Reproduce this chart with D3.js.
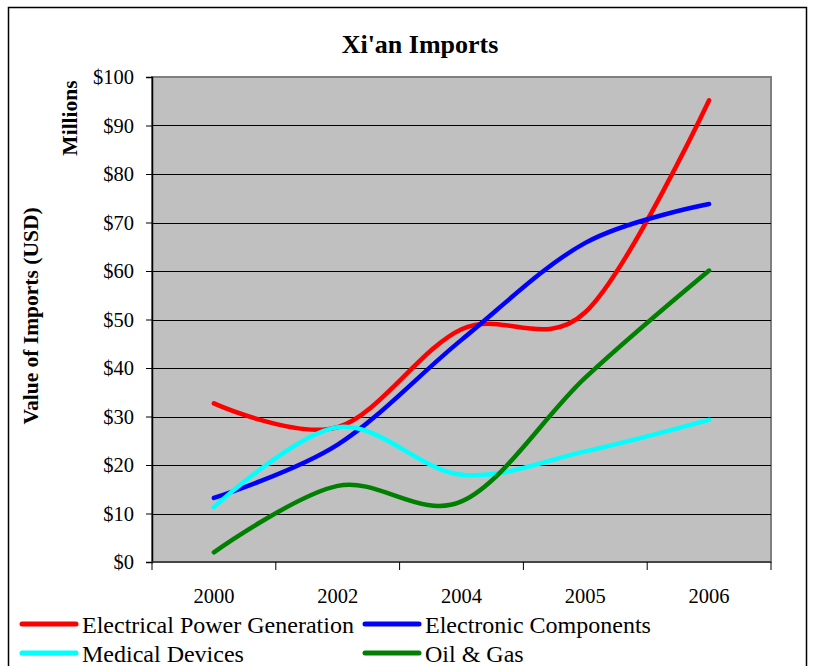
<!DOCTYPE html>
<html>
<head>
<meta charset="utf-8">
<script src="https://cdn.jsdelivr.net/npm/d3@7"></script>
<style>
  body { margin: 0; background: #fff; }
  text { font-family: "Liberation Serif", "Times New Roman", serif; }
</style>
</head>
<body>
<script>
// data (millions USD)
var years = ["2000", "2002", "2004", "2005", "2006"];
var electricalPower = [32.7, 27.8, 48.0, 51.5, 95.2];
var electronicComp = [13.2, 24.2, 45.8, 65.8, 73.8];
var medicalDevices = [11.3, 27.8, 18.0, 22.8, 29.3];
var oilGas = [2.0, 15.7, 12.5, 38.0, 60.1];
var seriesNames = ["Electrical Power Generation", "Electronic Components", "Medical Devices", "Oil & Gas"];
var seriesColors = ["#ff0000", "#0000ff", "#00ffff", "#008000"];
var yTicks = [0, 10, 20, 30, 40, 50, 60, 70, 80, 90, 100];

var allSeries = [electricalPower, electronicComp, medicalDevices, oilGas];

var margin = {top: 77, right: 45, bottom: 104, left: 152},
    width = 816 - margin.left - margin.right,
    height = 666 - margin.top - margin.bottom;

var svg = d3.select("body").append("svg")
    .attr("width", 816)
    .attr("height", 666);

// outer chart border
svg.append("rect")
    .attr("x", 8.5).attr("y", 7.5)
    .attr("width", 798).attr("height", 700)
    .attr("fill", "#fff")
    .attr("stroke", "#000")
    .attr("stroke-width", 1.5);

var g = svg.append("g")
    .attr("transform", "translate(" + margin.left + "," + margin.top + ")");

var x = d3.scaleBand()
    .domain(years)
    .range([0, width])
    .padding(0);

var y = d3.scaleLinear()
    .domain([0, 100])
    .range([height, 0]);

// plot area
g.append("rect")
    .attr("width", width)
    .attr("height", height)
    .attr("fill", "#c0c0c0")
    .attr("stroke", "#808080")
    .attr("stroke-width", 2);

// gridlines
g.selectAll(".grid")
    .data(yTicks.filter(function(d) { return d > 0 && d < 100; }))
    .enter().append("line")
    .attr("x1", 0).attr("x2", width)
    .attr("y1", function(d) { return Math.round(y(d)) + 0.5; })
    .attr("y2", function(d) { return Math.round(y(d)) + 0.5; })
    .attr("stroke", "#000")
    .attr("stroke-width", 1);

// y axis
var yAxis = g.append("g")
    .call(d3.axisLeft(y).tickValues(yTicks).tickSize(6).tickPadding(12)
        .tickFormat(function(d) { return "$" + d; }));
yAxis.select(".domain").attr("stroke", "#000").attr("stroke-width", 1.5);
yAxis.selectAll("text")
    .attr("font-size", "20.5px")
    .attr("fill", "#000")
    .style("font-family", "'Liberation Serif', 'Times New Roman', serif");

// x axis, ticks on band boundaries
var xAxis = g.append("g")
    .attr("transform", "translate(0," + height + ")");
xAxis.append("line")
    .attr("x1", 0).attr("x2", width)
    .attr("stroke", "#333").attr("stroke-width", 1.5);
var bounds = years.map(function(d) { return x(d); }).concat([width]);
xAxis.selectAll(".xt")
    .data(bounds)
    .enter().append("line")
    .attr("x1", function(d) { return d; })
    .attr("x2", function(d) { return d; })
    .attr("y1", 0).attr("y2", 8)
    .attr("stroke", "#000");
xAxis.selectAll(".xl")
    .data(years)
    .enter().append("text")
    .attr("x", function(d) { return x(d) + x.bandwidth() / 2; })
    .attr("y", 41)
    .attr("text-anchor", "middle")
    .attr("font-size", "20.5px")
    .text(function(d) { return d; });

// smoothed lines
var line = d3.line()
    .x(function(d, i) { return x(years[i]) + x.bandwidth() / 2; })
    .y(function(d) { return y(d); })
    .curve(d3.curveCatmullRom.alpha(0));

g.selectAll(".series")
    .data(allSeries)
    .enter().append("path")
    .attr("d", line)
    .attr("fill", "none")
    .attr("stroke", function(d, i) { return seriesColors[i]; })
    .attr("stroke-width", 4.5)
    .attr("stroke-linecap", "round")
    .attr("stroke-linejoin", "round");

// title
svg.append("text")
    .attr("x", 420).attr("y", 53)
    .attr("text-anchor", "middle")
    .attr("font-size", "26px")
    .attr("font-weight", "bold")
    .text("Xi'an Imports");

// y axis titles
svg.append("text")
    .attr("transform", "translate(38,316) rotate(-90)")
    .attr("text-anchor", "middle")
    .attr("font-size", "21.5px")
    .attr("font-weight", "bold")
    .text("Value of Imports (USD)");

svg.append("text")
    .attr("transform", "translate(77,118) rotate(-90)")
    .attr("text-anchor", "middle")
    .attr("font-size", "21.5px")
    .attr("font-weight", "bold")
    .text("Millions");

// legend
var legend = svg.selectAll(".legend")
    .data(seriesNames)
    .enter().append("g")
    .attr("transform", function(d, i) {
        return "translate(" + (i % 2 === 0 ? 20 : 363) + "," + (i < 2 ? 624 : 653) + ")";
    });
legend.append("line")
    .attr("x1", 2).attr("x2", 56)
    .attr("stroke", function(d, i) { return seriesColors[i]; })
    .attr("stroke-width", 5)
    .attr("stroke-linecap", "round");
legend.append("text")
    .attr("x", 62).attr("y", 9)
    .attr("font-size", "24px")
    .text(function(d) { return d; });
</script>
</body>
</html>
